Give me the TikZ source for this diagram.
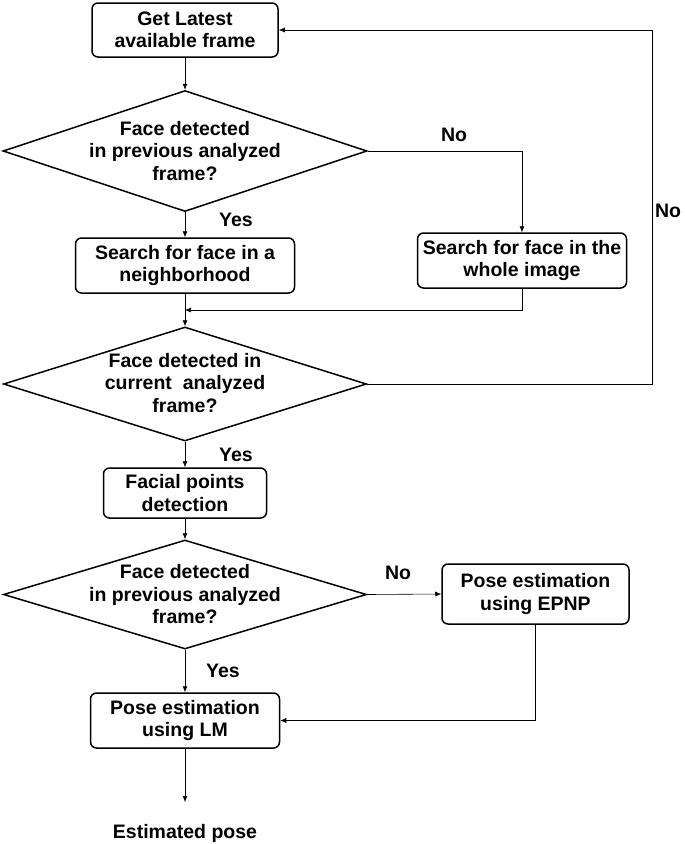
\documentclass[tikz,border=0pt]{standalone}
\usepackage{fontspec}
\setmainfont{Liberation Sans}
\usetikzlibrary{shapes.geometric,arrows.meta,calc}

\begin{document}
\begin{tikzpicture}[x=1pt,y=-1pt,
			mybox/.style={draw, rounded corners=6pt, line width=1.5pt, align=center, inner sep=0pt},
			mydiam/.style={draw, diamond, line width=1.5pt, inner sep=0pt},
			mytext/.style={align=center, font=\fontsize{19.5}{22.5}\selectfont\bfseries},
			myarrow/.style={-{Latex[length=6pt,width=5pt]}, line width=0.6pt},
			myline/.style={line width=0.6pt}
		]
		\useasboundingbox (0,0) rectangle (685,844);

		\node[mybox, mytext, minimum width=186pt, minimum height=54pt] (latest) at (185,30) {Get Latest\\available frame};

		\node[mydiam, minimum width=364pt, minimum height=121pt] (prevA) at (185,151) {};
		\node[mytext] (prevAtext) at (185,151) {Face detected\\in previous analyzed\\frame?};

		\node[mybox, mytext, minimum width=219pt, minimum height=55pt] (neigh) at (185,265.5) {Search for face in a\\neighborhood};
		\node[mybox, mytext, minimum width=209pt, minimum height=55pt] (whole) at (522,260.5) {Search for face in the\\whole image};

		\node[mydiam, minimum width=363pt, minimum height=114pt] (curr) at (185,384) {};
		\node[mytext] (currtext) at (185,383) {Face detected in\\current \ analyzed\\frame?};

		\node[mybox, mytext, minimum width=163pt, minimum height=50pt] (facial) at (185,493) {Facial points\\detection};

		\node[mydiam, minimum width=363pt, minimum height=109pt] (prevB) at (185,594.5) {};
		\node[mytext] (prevBtext) at (185,594.5) {Face detected\\in previous analyzed\\frame?};

		\node[mybox, mytext, minimum width=187pt, minimum height=60pt] (epnp) at (535.5,594) {Pose estimation\\using EPNP};
		\node[mybox, mytext, minimum width=189pt, minimum height=55pt] (lm) at (185,720.5) {Pose estimation\\using LM};

		\coordinate (out) at (185,802);
		\node[mytext] (pose) at (185,833) {Estimated pose};

		% connectors
		\draw[myarrow] (latest) -- (prevA);
		\draw[myarrow] (prevA.east) -| (whole.north);
		\draw[myarrow] (prevA) -- (neigh);
		\draw[myarrow] (neigh) -- (curr);
		\draw[myarrow] (whole.south) |- ($(neigh.south)!0.5!(curr.north)$);
		\draw[myarrow] (curr.east) -- (652,384) |- (latest.east);
		\draw[myarrow] (curr) -- (facial);
		\draw[myarrow] (facial) -- (prevB);
		\draw[myarrow] (prevB.east) -- (epnp.west);
		\draw[myarrow] (prevB) -- (lm);
		\draw[myarrow] (epnp.south) |- (lm.east);
		\draw[myarrow] (lm) -- (out);

		% labels
		\node[mytext] (noA) at (454,135) {No};
		\node[mytext] (yesA) at (236,220) {Yes};
		\node[mytext] (noC) at (668,211) {No};
		\node[mytext] (yesC) at (236,455) {Yes};
		\node[mytext] (noB) at (398,573) {No};
		\node[mytext] (yesB) at (223,671) {Yes};
	\end{tikzpicture}
\end{document}
